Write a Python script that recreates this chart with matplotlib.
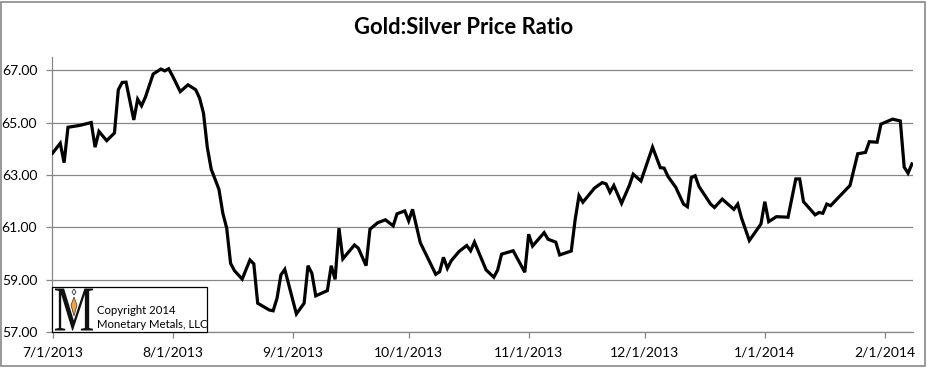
import matplotlib
matplotlib.use("Agg")
import matplotlib.pyplot as plt
import matplotlib.dates as mdates
import pandas as pd
from matplotlib.patches import Rectangle, FancyBboxPatch, PathPatch, Polygon
from matplotlib.textpath import TextPath
from matplotlib.font_manager import FontProperties
from matplotlib.transforms import Affine2D

# ---- data ----
dates = [
    "2013-07-01", "2013-07-03", "2013-07-04", "2013-07-05", "2013-07-08", "2013-07-11",
    "2013-07-12", "2013-07-13", "2013-07-15", "2013-07-17", "2013-07-18", "2013-07-19",
    "2013-07-20", "2013-07-22", "2013-07-23", "2013-07-24", "2013-07-25", "2013-07-27",
    "2013-07-29", "2013-07-30", "2013-07-31", "2013-08-01", "2013-08-03", "2013-08-05",
    "2013-08-07", "2013-08-08", "2013-08-09", "2013-08-10", "2013-08-11", "2013-08-13",
    "2013-08-14", "2013-08-15", "2013-08-16", "2013-08-17", "2013-08-19", "2013-08-21",
    "2013-08-22", "2013-08-23", "2013-08-26", "2013-08-27", "2013-08-28", "2013-08-29",
    "2013-08-30", "2013-09-02", "2013-09-04", "2013-09-05", "2013-09-06", "2013-09-07",
    "2013-09-10", "2013-09-11", "2013-09-12", "2013-09-13", "2013-09-14", "2013-09-17",
    "2013-09-18", "2013-09-20", "2013-09-21", "2013-09-23", "2013-09-25", "2013-09-27",
    "2013-09-28", "2013-09-30", "2013-10-01", "2013-10-02", "2013-10-04", "2013-10-08",
    "2013-10-09", "2013-10-10", "2013-10-11", "2013-10-12", "2013-10-14", "2013-10-16",
    "2013-10-17", "2013-10-18", "2013-10-21", "2013-10-23", "2013-10-24", "2013-10-25",
    "2013-10-28", "2013-10-31", "2013-11-01", "2013-11-02", "2013-11-05", "2013-11-06",
    "2013-11-08", "2013-11-09", "2013-11-12", "2013-11-13", "2013-11-14", "2013-11-15",
    "2013-11-18", "2013-11-20", "2013-11-21", "2013-11-22", "2013-11-23", "2013-11-25",
    "2013-11-27", "2013-11-28", "2013-11-30", "2013-12-03", "2013-12-05", "2013-12-06",
    "2013-12-07", "2013-12-09", "2013-12-11", "2013-12-12", "2013-12-13", "2013-12-14",
    "2013-12-15", "2013-12-18", "2013-12-19", "2013-12-21", "2013-12-24", "2013-12-25",
    "2013-12-26", "2013-12-28", "2013-12-31", "2014-01-01", "2014-01-02", "2014-01-04",
    "2014-01-07", "2014-01-09", "2014-01-10", "2014-01-11", "2014-01-14", "2014-01-15",
    "2014-01-16", "2014-01-17", "2014-01-18", "2014-01-23", "2014-01-25", "2014-01-27",
    "2014-01-28", "2014-01-30", "2014-01-31", "2014-02-03", "2014-02-05", "2014-02-06",
    "2014-02-07", "2014-02-08",
]
ratio = [
    63.83, 64.21, 63.47, 64.82, 64.89, 65.00,
    64.06, 64.66, 64.31, 64.60, 66.25, 66.53,
    66.54, 65.10, 65.89, 65.64, 65.97, 66.85,
    67.04, 66.97, 67.05, 66.78, 66.18, 66.44,
    66.25, 65.93, 65.36, 64.04, 63.22, 62.45,
    61.54, 60.97, 59.63, 59.35, 59.03, 59.76,
    59.61, 58.11, 57.85, 57.82, 58.30, 59.19,
    59.40, 57.70, 58.11, 59.54, 59.25, 58.39,
    58.59, 59.54, 59.02, 60.97, 59.80, 60.33,
    60.21, 59.54, 60.93, 61.18, 61.29, 61.06,
    61.52, 61.63, 61.25, 61.69, 60.42, 59.21,
    59.31, 59.86, 59.44, 59.73, 60.08, 60.31,
    60.11, 60.44, 59.38, 59.10, 59.38, 59.98,
    60.11, 59.29, 60.74, 60.29, 60.80, 60.55,
    60.44, 59.95, 60.10, 61.29, 62.21, 61.96,
    62.50, 62.71, 62.66, 62.34, 62.60, 61.92,
    62.60, 63.03, 62.77, 64.06, 63.28, 63.26,
    62.94, 62.53, 61.89, 61.79, 62.90, 62.97,
    62.56, 61.89, 61.76, 62.08, 61.69, 61.89,
    61.35, 60.50, 61.13, 61.98, 61.22, 61.41,
    61.39, 62.85, 62.85, 61.98, 61.48, 61.57,
    61.54, 61.89, 61.83, 62.60, 63.81, 63.86,
    64.27, 64.25, 64.94, 65.13, 65.06, 63.30,
    63.07, 63.42,
]
month_ticks = ["2013-07-01", "2013-08-01", "2013-09-01", "2013-10-01", "2013-11-01",
               "2013-12-01", "2014-01-01", "2014-02-01"]
month_labels = ["7/1/2013", "8/1/2013", "9/1/2013", "10/1/2013", "11/1/2013",
                "12/1/2013", "1/1/2014", "2/1/2014"]
y_ticks = [57, 59, 61, 63, 65, 67]
title = "Gold:Silver Price Ratio"
credit = ["Copyright 2014", "Monetary Metals, LLC"]

plt.rcParams['font.family'] = ['Lato', 'DejaVu Sans']

W, H = 929, 368
fig = plt.figure(figsize=(W / 100, H / 100), dpi=100)

def fx(px):
    return px / W

def fy(py):
    return 1 - py / H

ax = fig.add_axes([fx(52.5), fy(332.3), fx(912.7) - fx(52.5), fy(57) - fy(332.3)])

x = pd.to_datetime(dates)
ax.plot(x, ratio, color="black", lw=2.3, solid_joinstyle="miter", zorder=3)

grey = "#878787"
ax.set_ylim(57, 67.5)
ax.set_xlim(pd.Timestamp("2013-07-01"), pd.Timestamp("2013-07-01") + pd.Timedelta(days=222.2))
ax.set_yticks(y_ticks)
ax.set_yticklabels([f"{v:.2f}" for v in y_ticks])
ax.set_xticks(pd.to_datetime(month_ticks))
ax.set_xticklabels(month_labels)
ax.grid(axis="y", color=grey, lw=0.9)
ax.set_axisbelow(True)
for s in ["top", "right"]:
    ax.spines[s].set_visible(False)
for s in ["left", "bottom"]:
    ax.spines[s].set_color(grey)
    ax.spines[s].set_linewidth(0.9)
ax.tick_params(axis="both", colors=grey, length=4, width=0.9, labelcolor="black", labelsize=10)
ax.tick_params(axis="y", pad=7)
ax.tick_params(axis="x", pad=6)

# title
fig.text(fx(464), fy(27), title, ha="center", va="center", fontsize=15.8, fontweight="bold")

# outer border
fig.patches.append(Rectangle((fx(1.5), fy(365.5)), fx(925) - fx(1.5), fy(1.5) - fy(365.5),
                             transform=fig.transFigure, fill=False, edgecolor=grey, lw=1.2))

# logo box
fig.patches.append(Rectangle((fx(52.5), fy(332.3)), fx(207.3) - fx(52.5), fy(286.7) - fy(332.3),
                             transform=fig.transFigure, facecolor="white", edgecolor="black",
                             lw=0.9, zorder=5))
tp = TextPath((0, 0), "M", prop=FontProperties(family="Liberation Serif"), size=10)
ext = tp.get_extents()
sx = (fx(93) - fx(55)) / ext.width
sy = (fy(288.5) - fy(330.5)) / ext.height
tr = Affine2D().translate(-ext.x0, -ext.y0).scale(sx, sy).translate(fx(55), fy(330.5)) + fig.transFigure
fig.patches.append(PathPatch(tp, transform=tr, facecolor="#111111", edgecolor="none", zorder=6))
fig.patches.append(Polygon([(fx(74), fy(297)), (fx(77), fy(305)), (fx(74), fy(316)), (fx(71), fy(305))],
                           closed=True, transform=fig.transFigure, facecolor="#f4a340",
                           edgecolor="#333333", lw=0.5, zorder=7))
fig.patches.append(Polygon([(fx(74), fy(289)), (fx(76), fy(292)), (fx(74), fy(295)), (fx(72), fy(292))],
                           closed=True, transform=fig.transFigure, facecolor="white",
                           edgecolor="#333333", lw=0.6, zorder=7))
fig.text(fx(97), fy(311), credit[0], ha="left", va="center", fontsize=8.2, zorder=8)
fig.text(fx(97), fy(324), credit[1], ha="left", va="center", fontsize=8.2, zorder=8)

fig.savefig("out.png", dpi=100)
